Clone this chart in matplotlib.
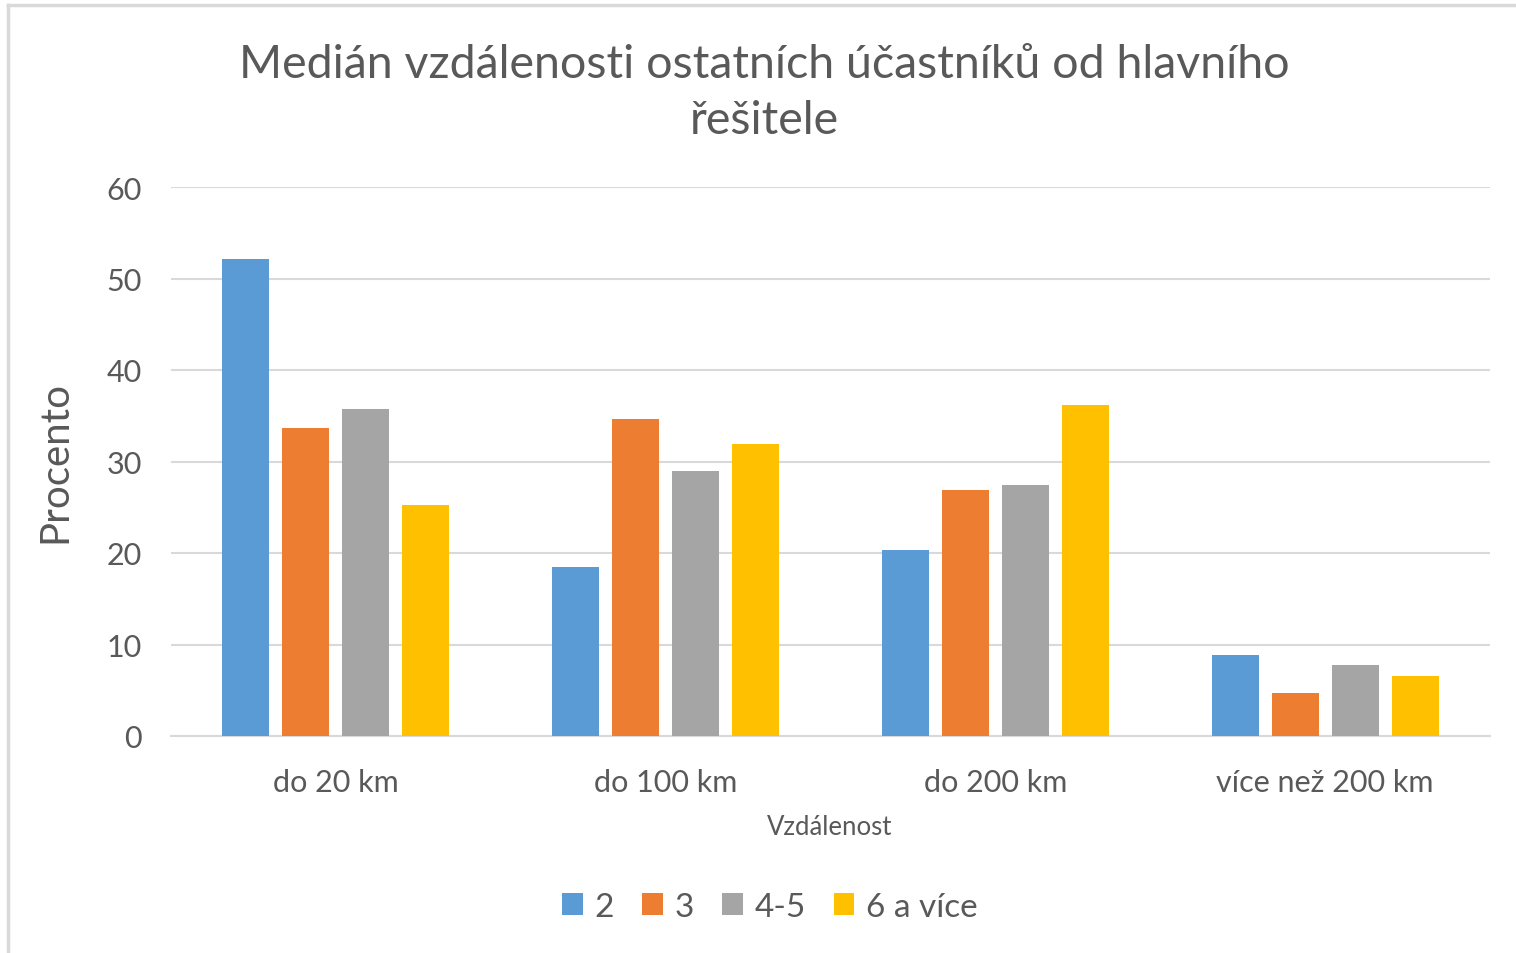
import matplotlib
matplotlib.use("Agg")
import matplotlib.pyplot as plt
import numpy as np
from matplotlib.lines import Line2D

categories = ["do 20 km", "do 100 km", "do 200 km", "více než 200 km"]
series_names = ["2", "3", "4-5", "6 a více"]
s2 = [52.1, 18.5, 20.3, 8.8]
s3 = [33.7, 34.6, 26.9, 4.7]
s45 = [35.7, 29.0, 27.4, 7.8]
s6 = [25.2, 31.9, 36.2, 6.6]
yticks = [0, 10, 20, 30, 40, 50, 60]
colors = ["#5B9BD5", "#ED7D31", "#A5A5A5", "#FFC000"]
text_color = "#595959"

plt.rcParams['font.family'] = ['Lato', 'DejaVu Sans']

W, H = 1516, 954
fig = plt.figure(figsize=(W / 100, H / 100), dpi=100)
ax = fig.add_axes([171 / W, 1 - 737 / H, (1490 - 171) / W, (737 - 188) / H])

x = np.arange(len(categories))
width = 47 / 330
step = 60 / 330
data = [s2, s3, s45, s6]
for i, (vals, name, c) in enumerate(zip(data, series_names, colors)):
    ax.bar(x + (i - 1.5) * step, vals, width, color=c, label=name, zorder=3)

ax.set_xlim(-0.5, len(categories) - 0.5)
ax.set_ylim(0, 60)
ax.set_yticks(yticks)
ax.set_yticklabels([str(t) for t in yticks])
ax.set_xticks(x)
ax.set_xticklabels(categories)
ax.yaxis.grid(True, color="#D9D9D9", linewidth=1.5, zorder=0)
ax.set_axisbelow(True)
for sp in ["top", "right", "left"]:
    ax.spines[sp].set_visible(False)
ax.spines["bottom"].set_color("#D9D9D9")
ax.spines["bottom"].set_linewidth(1.5)
ax.tick_params(axis="both", length=0, labelsize=22, colors=text_color)
ax.tick_params(axis="y", pad=21)
ax.tick_params(axis="x", pad=23)

fig.text(764 / W, 1 - 93 / H, "Medián vzdálenosti ostatních účastníků od hlavního\nřešitele",
         ha="center", va="center", fontsize=33.5, color=text_color, linespacing=1.42)
fig.text(55 / W, 1 - 462 / H, "Procento", rotation=90, ha="center", va="center",
         fontsize=29, color=text_color)
fig.text(830 / W, 1 - 828 / H, "Vzdálenost", ha="center", va="center",
         fontsize=18.5, color=text_color)

leg = fig.legend(loc="center", bbox_to_anchor=(770 / W, 1 - 908 / H), ncol=4,
                 frameon=False, fontsize=24, handlelength=0.62, handleheight=0.62,
                 handletextpad=0.35, columnspacing=0.84)
for t in leg.get_texts():
    t.set_color(text_color)

fig.add_artist(Line2D([8 / W, 8 / W], [0, 1 - 6 / H], transform=fig.transFigure,
                      color="#D9D9D9", linewidth=2.5))
fig.add_artist(Line2D([8 / W, 1], [1 - 6 / H, 1 - 6 / H], transform=fig.transFigure,
                      color="#D9D9D9", linewidth=2.5))

fig.savefig("out.png", dpi=100)
